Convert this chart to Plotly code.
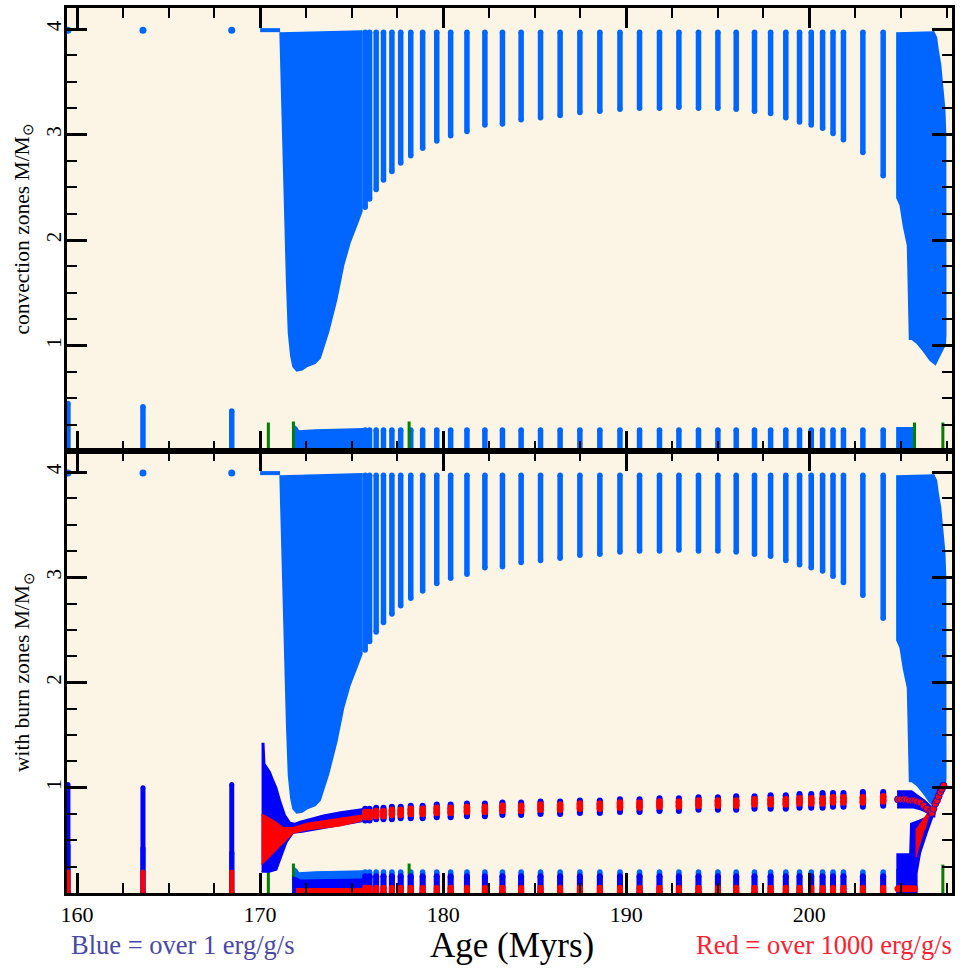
import plotly.graph_objects as go

# ---------------- data ----------------
# Thermal-pulse convective shells (age in Myr, lower / upper boundary in Msun)
pulse_age = [175.74, 175.98, 176.34, 176.74, 177.20, 177.68, 178.23, 178.88, 179.65, 180.41,
             181.30, 182.28, 183.24, 184.26, 185.32, 186.39, 187.47, 188.56, 189.66, 190.73,
             191.82, 192.88, 193.95, 195.01, 196.01, 197.01, 197.89, 198.72, 199.47, 200.11,
             200.73, 201.30, 201.87, 202.93, 204.04]
pulse_bottom = [2.31, 2.39, 2.48, 2.57, 2.65, 2.73, 2.80, 2.87, 2.94, 2.99,
                3.03, 3.09, 3.10, 3.14, 3.16, 3.18, 3.21, 3.22, 3.24, 3.25,
                3.25, 3.26, 3.25, 3.25, 3.24, 3.22, 3.20, 3.16, 3.12, 3.09,
                3.06, 3.01, 2.95, 2.83, 2.61]
pulse_top = [3.97] * 35
pulse_low_top = [0.20] * 35

# Burning shells at each pulse (bottom panel)
burn_bot = [0.69, 0.69, 0.70, 0.70, 0.70, 0.71, 0.71, 0.71, 0.72, 0.72,
            0.73, 0.73, 0.74, 0.74, 0.75, 0.75, 0.76, 0.76, 0.77, 0.77,
            0.78, 0.78, 0.79, 0.79, 0.79, 0.80, 0.80, 0.80, 0.81, 0.81,
            0.81, 0.82, 0.82, 0.82, 0.83]
burn_top = [0.80, 0.80, 0.81, 0.81, 0.82, 0.82, 0.83, 0.83, 0.84, 0.84,
            0.85, 0.85, 0.86, 0.86, 0.87, 0.87, 0.88, 0.88, 0.89, 0.89,
            0.90, 0.90, 0.91, 0.91, 0.92, 0.92, 0.93, 0.93, 0.94, 0.94,
            0.95, 0.95, 0.95, 0.96, 0.96]
red_bot = [0.72, 0.72, 0.73, 0.73, 0.74, 0.74, 0.75, 0.75, 0.76, 0.76,
           0.77, 0.77, 0.78, 0.78, 0.79, 0.79, 0.80, 0.80, 0.81, 0.81,
           0.82, 0.82, 0.83, 0.83, 0.83, 0.84, 0.84, 0.84, 0.85, 0.85,
           0.85, 0.86, 0.86, 0.86, 0.87]
red_top = [0.77, 0.77, 0.78, 0.78, 0.79, 0.79, 0.80, 0.80, 0.81, 0.81,
           0.82, 0.82, 0.83, 0.83, 0.84, 0.84, 0.85, 0.85, 0.86, 0.86,
           0.87, 0.87, 0.88, 0.88, 0.88, 0.89, 0.89, 0.89, 0.90, 0.90,
           0.90, 0.91, 0.91, 0.91, 0.92]
burn_low_top = [0.16] * 35
red_low_top = [0.05] * 35

# Early flashes
early_age = [159.50, 163.60, 168.45]
early_conv_top = [0.45, 0.42, 0.38]
early_burn_top = [1.03, 1.00, 1.03]
early_red_top = [0.20, 0.20, 0.20]
surface_dot = [3.99, 3.99, 3.99]

# Green marks (small convective zones)
green_age = [170.45, 171.82, 178.14, 205.75, 207.30]
green_top = [0.27, 0.28, 0.28, 0.27, 0.27]

# Envelope convective zone after first big pulse (polygon outline)
env_age = [171.09, 171.27, 171.45, 171.55, 171.68, 171.80, 172.00, 172.30, 172.55, 173.00,
           173.28, 173.74, 174.19, 174.56, 174.92, 175.28, 175.56, 175.56]
env_m = [3.97, 2.70, 1.60, 1.12, 0.90, 0.80, 0.76, 0.77, 0.80, 0.83,
         0.88, 1.13, 1.44, 1.76, 1.98, 2.14, 2.27, 3.99]
env_flat_age = [170.00, 171.09]
env_flat_m = [3.99, 3.99]

# Final convective envelope cluster (polygon outline)
end_age = [204.79, 204.79, 204.97, 205.15, 205.37, 205.48, 205.60, 205.90, 206.23, 206.60,
           206.89, 207.10, 207.43, 207.46, 207.45, 207.40, 207.35, 207.28, 207.17, 207.04,
           206.95, 206.78]
end_m = [3.97, 2.40, 2.33, 2.13, 1.95, 1.06, 1.06, 1.02, 0.95, 0.86,
         0.82, 0.89, 1.01, 1.10, 3.00, 3.24, 3.33, 3.48, 3.67, 3.80,
         3.92, 3.98]

# Lower convective zone (continuous part and final part)
lowc_age = [171.86, 171.86, 172.00, 172.10, 173.00, 175.60, 175.60]
lowc_m = [0.00, 0.24, 0.22, 0.19, 0.20, 0.21, 0.00]
lowe_age = [204.79, 204.79, 205.75, 205.75]
lowe_m = [0.00, 0.22, 0.22, 0.00]

# Burning region after the first thermal pulse (bottom panel)
burn1_age = [170.08, 170.20, 170.25, 170.55, 170.73, 170.90, 171.10, 171.37, 171.64, 171.90,
             172.19, 172.80, 173.46, 174.40, 175.28, 175.60,
             175.60, 174.40, 173.00, 172.30, 171.80, 171.45, 171.10, 170.90, 170.50, 170.08]
burn1_m = [1.42, 1.42, 1.23, 1.15, 1.07, 1.00, 0.88, 0.74, 0.67, 0.66,
           0.68, 0.71, 0.74, 0.77, 0.79, 0.80,
           0.68, 0.64, 0.60, 0.58, 0.57, 0.48, 0.31, 0.22, 0.20, 0.20]
red1_age = [170.08, 170.30, 170.70, 171.27, 171.80, 172.55, 174.37, 175.60,
            175.60, 174.37, 172.55, 171.80, 171.27, 170.70, 170.30, 170.08]
red1_m = [0.75, 0.73, 0.69, 0.62, 0.62, 0.66, 0.71, 0.74,
          0.69, 0.64, 0.60, 0.57, 0.48, 0.38, 0.30, 0.27]
burnlow_age = [171.80, 171.80, 172.00, 172.20, 175.60, 175.60]
burnlow_m = [0.00, 0.15, 0.14, 0.12, 0.13, 0.00]
redlow_age = [172.00, 172.00, 175.60, 175.60]
redlow_m = [0.00, 0.04, 0.04, 0.00]

# Final burning shells
burnend_age = [204.80, 205.60, 205.90, 206.30, 206.60, 206.85, 206.85, 206.50, 206.10, 205.70, 204.80]
burnend_m = [0.97, 0.97, 0.93, 0.88, 0.83, 0.80, 0.72, 0.76, 0.79, 0.81, 0.81]
burnwedge_age = [204.80, 204.80, 205.50, 205.55, 206.00, 206.80, 206.43, 206.07, 205.88, 205.88]
burnwedge_m = [0.00, 0.37, 0.37, 0.66, 0.69, 0.75, 0.57, 0.38, 0.19, 0.00]
redwedge_age = [205.85, 205.85, 206.61, 206.30]
redwedge_m = [0.34, 0.60, 0.79, 0.60]
redcurve_age = [204.85, 205.00, 205.15, 205.30, 205.45, 205.60, 205.75, 205.88, 206.07, 206.25,
                206.43, 206.61, 206.70, 206.79, 206.89, 206.98, 207.07, 207.16, 207.25, 207.34]
redcurve_m = [0.89, 0.89, 0.89, 0.89, 0.88, 0.88, 0.88, 0.87, 0.86, 0.83,
              0.80, 0.77, 0.76, 0.80, 0.85, 0.88, 0.92, 0.96, 0.99, 1.02]
redend_low_age = [204.85, 205.00, 205.15, 205.30, 205.45, 205.60, 205.75]
redend_low_m = [0.04, 0.04, 0.04, 0.04, 0.04, 0.04, 0.04]

# ---------------- styling ----------------
LB = "#0066FF"
BB = "#0000FF"
RD = "#FF0000"
GR = "#007F00"
BG = "#FCF5E6"
FONT = "Liberation Serif"


def segs(xs, y0, y1):
    X, Y = [], []
    for x, a, b in zip(xs, y0, y1):
        X += [x, x, None]
        Y += [a, b, None]
    return X, Y


fig = go.Figure()


def add_bars(xs, y0, y1, color, w, ax):
    X, Y = segs(xs, y0, y1)
    fig.add_trace(go.Scatter(x=X, y=Y, mode="lines+markers", line=dict(color=color, width=w),
                             marker=dict(color=color, size=w), hoverinfo="skip",
                             xaxis=ax[0], yaxis=ax[1], showlegend=False))


def add_poly(xs, ys, color, ax):
    fig.add_trace(go.Scatter(x=xs, y=ys, mode="lines", fill="toself", fillcolor=color,
                             line=dict(color=color, width=1.5), hoverinfo="skip",
                             xaxis=ax[0], yaxis=ax[1], showlegend=False))


zeros35 = [0.0] * 35
for ax in [("x", "y"), ("x2", "y2")]:
    # convection
    add_poly(env_age, env_m, LB, ax)
    add_poly(end_age, end_m, LB, ax)
    fig.add_trace(go.Scatter(x=env_flat_age, y=env_flat_m, mode="lines", line=dict(color=LB, width=4),
                             hoverinfo="skip", xaxis=ax[0], yaxis=ax[1], showlegend=False))
    add_bars(pulse_age, pulse_bottom, pulse_top, LB, 5.5, ax)
    fig.add_trace(go.Scatter(x=early_age, y=surface_dot, mode="markers", marker=dict(color=LB, size=7),
                             hoverinfo="skip", xaxis=ax[0], yaxis=ax[1], showlegend=False))
    add_bars(early_age, [0.0] * 3, early_conv_top, LB, 5.5, ax)
    add_poly(lowc_age, lowc_m, LB, ax)
    add_poly(lowe_age, lowe_m, LB, ax)
    add_bars(pulse_age, zeros35, pulse_low_top, LB, 5.5, ax)
    X, Y = segs(green_age, [0.0] * 5, green_top)
    fig.add_trace(go.Scatter(x=X, y=Y, mode="lines", line=dict(color=GR, width=3),
                             hoverinfo="skip", xaxis=ax[0], yaxis=ax[1], showlegend=False))

ax2 = ("x2", "y2")
# burning (bottom panel only)
add_bars(early_age, [0.0] * 3, early_burn_top, BB, 5, ax2)
add_bars(early_age, [0.0] * 3, early_red_top, RD, 5, ax2)
add_poly(burn1_age, burn1_m, BB, ax2)
add_poly(red1_age, red1_m, RD, ax2)
add_poly(burnlow_age, burnlow_m, BB, ax2)
add_poly(redlow_age, redlow_m, RD, ax2)
add_bars(pulse_age, burn_bot, burn_top, BB, 6, ax2)
add_bars(pulse_age, red_bot, red_top, RD, 6.5, ax2)
add_bars(pulse_age, zeros35, burn_low_top, BB, 6, ax2)
add_bars(pulse_age, zeros35, red_low_top, RD, 6, ax2)
add_poly(burnend_age, burnend_m, BB, ax2)
add_poly(burnwedge_age, burnwedge_m, BB, ax2)
add_poly(redwedge_age, redwedge_m, RD, ax2)
fig.add_trace(go.Scatter(x=redcurve_age, y=redcurve_m, mode="markers",
                         marker=dict(color=RD, size=7, line=dict(color=BB, width=0.8)),
                         hoverinfo="skip", xaxis="x2", yaxis="y2", showlegend=False))
fig.add_trace(go.Scatter(x=redend_low_age, y=redend_low_m, mode="markers",
                         marker=dict(color=RD, size=7), hoverinfo="skip",
                         xaxis="x2", yaxis="y2", showlegend=False))

# ---------------- axes / layout ----------------
xcommon = dict(range=[159.45, 207.8], showgrid=False, zeroline=False, showline=True,
               linecolor="black", linewidth=3, mirror="ticks", ticks="inside", ticklen=20,
               tickwidth=2.5, tickcolor="black", tickmode="linear", tick0=160, dtick=10,
               automargin=False,
               minor=dict(ticks="inside", ticklen=10, tickwidth=2, tickcolor="black",
                          tickmode="linear", tick0=160, dtick=2.5),
               tickfont=dict(family=FONT, size=22, color="black"))
ycommon = dict(range=[0, 4.2], showgrid=False, zeroline=False, showline=True,
               linecolor="black", linewidth=3, mirror="ticks", ticks="inside", ticklen=20,
               tickwidth=2.5, tickcolor="black", tickmode="array", tickvals=[1, 2, 3, 4],
               ticktext=["1", "2", "3", "4"], tickangle=-90, automargin=False,
               ticklabelstandoff=-5,
               minor=dict(ticks="inside", ticklen=10, tickwidth=2, tickcolor="black",
                          tickmode="linear", tick0=0, dtick=0.25),
               tickfont=dict(family=FONT, size=21, color="black"))

split = 442.0 / 885.0
fig.update_layout(
    width=960, height=973,
    margin=dict(l=67, r=8, t=8, b=80, autoexpand=False),
    paper_bgcolor="white", plot_bgcolor=BG,
    xaxis=dict(xcommon, anchor="y", domain=[0, 1], showticklabels=False),
    yaxis=dict(ycommon, anchor="x", domain=[split, 1]),
    xaxis2=dict(xcommon, anchor="y2", domain=[0, 1]),
    yaxis2=dict(ycommon, anchor="x2", domain=[0, split]),
    showlegend=False,
)

ann_y = -(945 - 893) / 885.0
fig.add_annotation(text="convection zones M/M<sub>⊙</sub>", xref="paper", yref="paper",
                   x=(23 - 67) / 885.0, y=(split + 1) / 2, textangle=-90, showarrow=False,
                   xanchor="center", yanchor="middle", font=dict(family=FONT, size=21.5, color="black"))
fig.add_annotation(text="with burn zones M/M<sub>⊙</sub>", xref="paper", yref="paper",
                   x=(23 - 67) / 885.0, y=split / 2, textangle=-90, showarrow=False,
                   xanchor="center", yanchor="middle", font=dict(family=FONT, size=21.5, color="black"))
fig.add_annotation(text="Age (Myrs)", xref="paper", yref="paper", x=(512 - 67) / 885.0, y=ann_y,
                   showarrow=False, xanchor="center", yanchor="middle",
                   font=dict(family=FONT, size=35, color="black"))
fig.add_annotation(text="Blue = over 1 erg/g/s", xref="paper", yref="paper", x=(69 - 67) / 885.0,
                   y=ann_y, showarrow=False, xanchor="left", yanchor="middle",
                   font=dict(family=FONT, size=26.5, color="#4848A8"))
fig.add_annotation(text="Red = over 1000 erg/g/s", xref="paper", yref="paper", x=(954 - 67) / 885.0,
                   y=ann_y, showarrow=False, xanchor="right", yanchor="middle",
                   font=dict(family=FONT, size=26.5, color="#FF2030"))

fig.write_html("out.html", config={"displayModeBar": False},
               post_script="document.body.style.margin='0';document.body.style.overflow='hidden';")
